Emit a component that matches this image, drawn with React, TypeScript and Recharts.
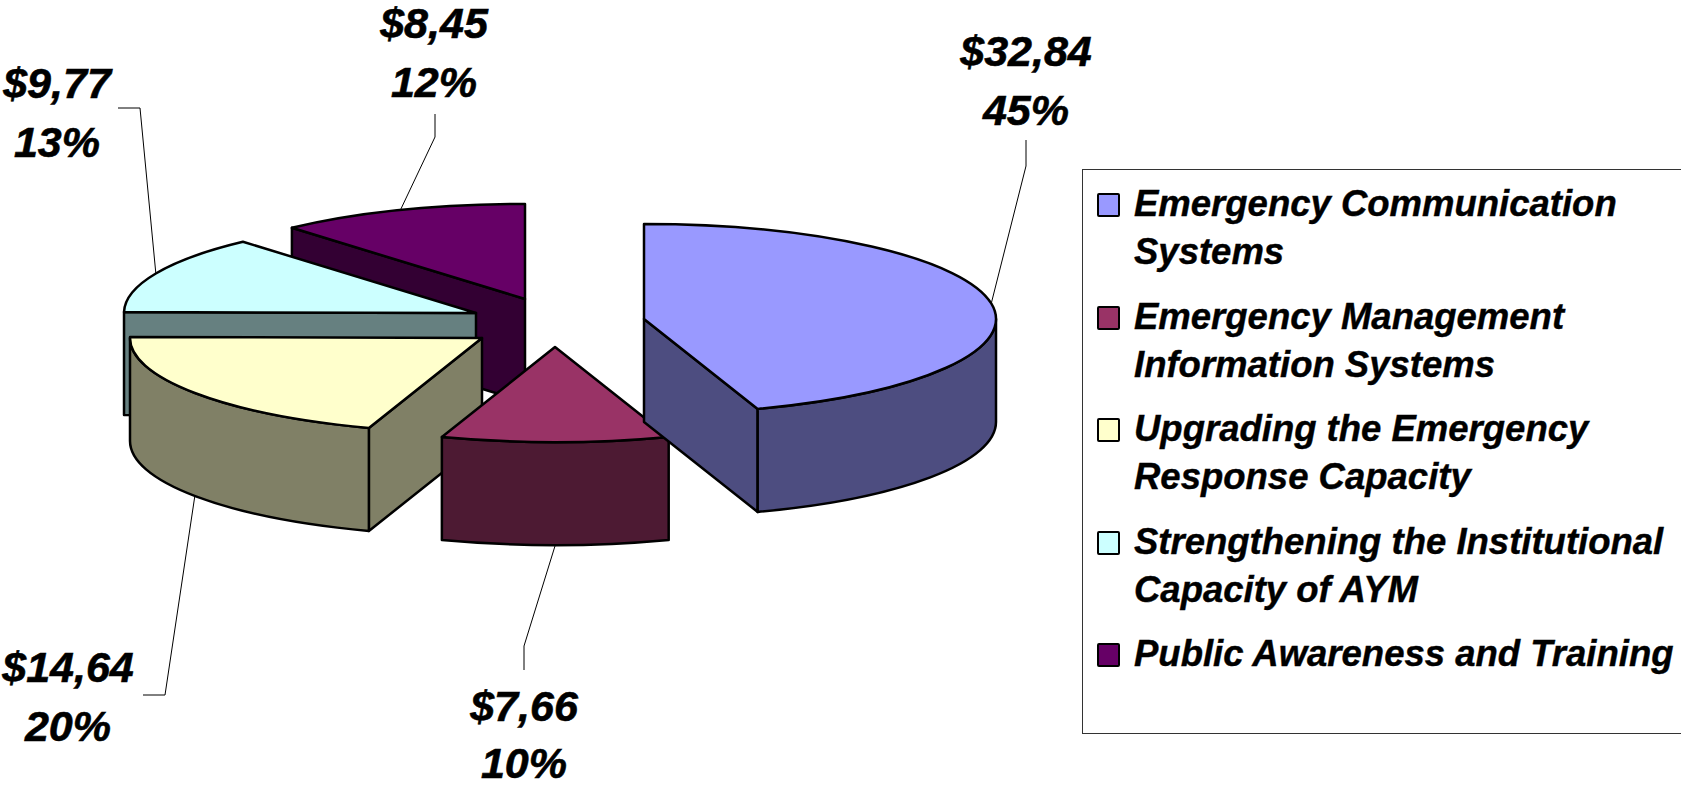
import { Legend, Pie, PieChart } from 'recharts';

const categories = [
  'Emergency Communication Systems',
  'Emergency Management Information Systems',
  'Upgrading the Emergency Response Capacity',
  'Strengthening the Institutional Capacity of AYM',
  'Public Awareness and Training',
];
const amounts = [32.84, 7.66, 14.64, 9.77, 8.45];

const topColors = ['#9999FF', '#993366', '#FFFFCC', '#CCFFFF', '#660066'];
const sideColors = ['#4D4D80', '#4D1A33', '#808066', '#668080', '#330033'];

// where each exploded slice sits, relative to the pie centre
const sliceOffsets = [
  { dx: 114, dy: -1 },
  { dx: 25, dy: 27 },
  { dx: -48, dy: 18 },
  { dx: -54, dy: -7 },
  { dx: -5, dy: -21 },
];

// value/percent text centre, baseline and line gap, and the leader's outer points
const labelLayout = [
  { x: 1026, y: 66, gap: 59, line: [[1026, 140], [1026, 166]] },
  { x: 524, y: 721, gap: 57, line: [[524, 670], [524, 646]] },
  { x: 68, y: 682, gap: 59, line: [[143, 695], [165, 695]] },
  { x: 57, y: 98, gap: 59, line: [[118, 108], [140, 108]] },
  { x: 434, y: 38, gap: 59, line: [[435, 114], [435, 137]] },
];

const WIDTH = 1681;
const HEIGHT = 787;
const FLATTEN = 0.27;
const DEPTH = 103;
const RAD = Math.PI / 180;
const LABEL_FONT = '"Liberation Sans", Arial, sans-serif';

// drawn back to front: reversed order going counter-clockwise from 12 o'clock
const rows = categories
  .map((name, i) => ({ name, value: amounts[i], fill: topColors[i], slice: i }))
  .reverse();

const pointOn = (cx: number, cy: number, r: number, deg: number) => ({
  x: cx + r * Math.cos(deg * RAD),
  y: cy - r * FLATTEN * Math.sin(deg * RAD),
});

function Slice3D(props: any) {
  const { cx, cy, outerRadius: r, startAngle, endAngle, fill, slice } = props;
  const i = slice ?? props.payload?.slice;
  const ox = cx + sliceOffsets[i].dx;
  const oy = cy + sliceOffsets[i].dy;
  const lo = Math.min(startAngle, endAngle);
  const hi = Math.max(startAngle, endAngle);
  const a = pointOn(ox, oy, r, hi);
  const b = pointOn(ox, oy, r, lo);
  const rx = r;
  const ry = r * FLATTEN;
  const large = hi - lo > 180 ? 1 : 0;
  const top = `M${ox},${oy} L${a.x},${a.y} A${rx},${ry} 0 ${large} 1 ${b.x},${b.y} Z`;

  const wall = (p: { x: number; y: number }, q: { x: number; y: number }) =>
    `M${p.x},${p.y} L${q.x},${q.y} L${q.x},${q.y + DEPTH} L${p.x},${p.y + DEPTH} Z`;
  const centre = { x: ox, y: oy };
  const walls: string[] = [];
  // travelling clockwise round the top, an edge faces the viewer when it runs leftwards
  if (b.x > ox) walls.push(wall(b, centre));
  if (a.x < ox) walls.push(wall(centre, a));

  // outer wall is the part of the rim in the lower half of the ellipse
  const spans = [
    [Math.max(lo, 180), Math.min(hi, 360)],
    [Math.max(lo, 540), Math.min(hi, 720)],
  ].filter(([s, e]) => e > s);
  const rims = spans.map(([s, e]) => {
    const p = pointOn(ox, oy, r, e);
    const q = pointOn(ox, oy, r, s);
    return `M${p.x},${p.y} A${rx},${ry} 0 0 1 ${q.x},${q.y} L${q.x},${q.y + DEPTH} A${rx},${ry} 0 0 0 ${p.x},${p.y + DEPTH} Z`;
  });

  const stroke = { stroke: '#000', strokeWidth: 2.5, strokeLinejoin: 'round' as const };
  return (
    <g>
      {walls.map((d) => (
        <path key={d} d={d} fill={sideColors[i]} {...stroke} />
      ))}
      {rims.map((d) => (
        <path key={d} d={d} fill={sideColors[i]} {...stroke} />
      ))}
      <path d={top} fill={fill} {...stroke} />
    </g>
  );
}

function SliceLabel(props: any) {
  const { cx, cy, outerRadius: r, midAngle, value, percent, slice } = props;
  const i = slice ?? props.payload?.slice;
  const layout = labelLayout[i];
  const rim = pointOn(cx + sliceOffsets[i].dx, cy + sliceOffsets[i].dy, r, midAngle);
  const norm = ((midAngle % 360) + 360) % 360;
  const endY = norm > 180 ? rim.y + DEPTH : rim.y;
  const pts = [...layout.line, [rim.x, endY]].map((p) => p.join(',')).join(' ');
  const textStyle = {
    fontFamily: LABEL_FONT,
    fontSize: 43,
    fontWeight: 700,
    fontStyle: 'italic',
    fill: '#000',
    stroke: '#000',
    strokeWidth: 0.6,
  };
  return (
    <g>
      <polyline points={pts} fill="none" stroke="#000" strokeWidth={1} />
      <text x={layout.x} y={layout.y} textAnchor="middle" style={textStyle}>
        {`$${value.toFixed(2).replace('.', ',')}`}
      </text>
      <text x={layout.x} y={layout.y + layout.gap} textAnchor="middle" style={textStyle}>
        {`${Math.round(percent * 100)}%`}
      </text>
    </g>
  );
}

function LegendBox({ payload }: any) {
  // the legend sorts by name on its own, so put it back in the table's order
  const items = categories
    .map((name) => (payload ?? []).find((p: any) => p.value === name))
    .filter(Boolean);
  return (
    <div
      style={{
        boxSizing: 'border-box',
        width: 599,
        height: 565,
        border: '1px solid #333',
        borderRight: 'none',
        background: '#fff',
        padding: '10px 0 0 14px',
        fontFamily: LABEL_FONT,
        fontSize: 36.5,
        fontWeight: 700,
        fontStyle: 'italic',
        lineHeight: '48px',
        color: '#000',
        WebkitTextStroke: '0.4px #000',
      }}
    >
      {items.map((item: any) => (
        <div key={item.value} style={{ display: 'flex', marginBottom: 16.5 }}>
          <span
            style={{
              flex: 'none',
              boxSizing: 'border-box',
              width: 23,
              height: 24,
              marginTop: 13,
              marginRight: 14,
              background: item.color,
              border: '2.5px solid #000',
              borderRadius: 2,
            }}
          />
          <span>{item.value}</span>
        </div>
      ))}
    </div>
  );
}

export default function App() {
  return (
    <div style={{ position: 'absolute', left: 0, top: 0, width: WIDTH, height: HEIGHT, overflow: 'hidden', background: '#fff' }}>
      <PieChart width={WIDTH} height={HEIGHT} margin={{ top: 0, right: 0, bottom: 0, left: 0 }}>
        <Pie
          data={rows}
          dataKey="value"
          nameKey="name"
          cx={530}
          cy={320}
          innerRadius={0}
          outerRadius={352}
          startAngle={90}
          endAngle={450}
          isAnimationActive={false}
          shape={Slice3D}
          label={SliceLabel}
          labelLine={false}
        />
        <Legend
          content={LegendBox}
          layout="vertical"
          wrapperStyle={{ left: 1082, top: 169, width: 599, height: 565 }}
        />
      </PieChart>
    </div>
  );
}
